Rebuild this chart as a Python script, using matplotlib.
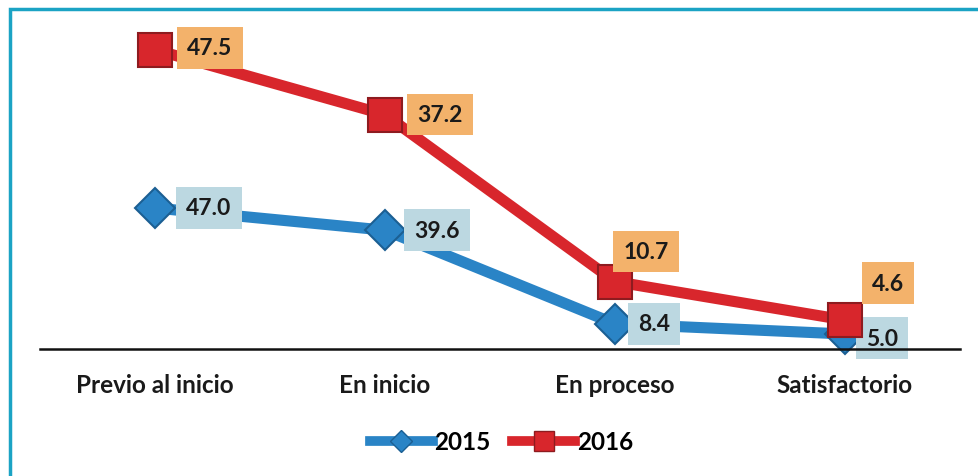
import matplotlib.pyplot as plt
from matplotlib.lines import Line2D
from matplotlib.patches import Rectangle

plt.rcParams['font.family'] = ['Lato', 'DejaVu Sans']
plt.rcParams['font.weight'] = 'bold'

# data
categories = ['Previo al inicio', 'En inicio', 'En proceso', 'Satisfactorio']
values_2015 = [47.0, 39.6, 8.4, 5.0]
values_2016 = [47.5, 37.2, 10.7, 4.6]

# label offsets (pixels) relative to each marker
offs_2015 = [(54, 0), (52, 0), (39, 0), (37, -4)]
offs_2016 = [(55, 2), (55, 0), (31, 30), (43, 37)]

blue = '#2a84c6'
red = '#d8262c'

fig = plt.figure(figsize=(9.79, 4.77), dpi=100)
ax = fig.add_axes([40 / 979, 1 - 350 / 477, 920 / 979, 315 / 477])
ax2 = ax.twinx()

x = list(range(len(categories)))

ax.plot(x, values_2015, color=blue, lw=8, marker='D', ms=20,
        mfc=blue, mec='#1b5f93', mew=1.5, clip_on=False, zorder=3)
ax2.plot(x, values_2016, color=red, lw=8, marker='s', ms=24,
         mfc=red, mec='#8e1b1f', mew=1.5, clip_on=False, zorder=3)

# 2015 is on the primary axis, 2016 on a secondary one
ax.set_ylim(0, 105)
ax2.set_ylim(0, 50)
ax.set_xlim(-0.5, 3.5)

for i, v in enumerate(values_2015):
    ax.annotate(f'{v:.1f}', (x[i], v), xytext=offs_2015[i], textcoords='offset pixels',
                ha='center', va='center', fontsize=16.5, fontweight='bold', color='#1a1a1a',
                bbox=dict(boxstyle='square,pad=0.45', fc='#bcd8e1', ec='none'), zorder=4)
for i, v in enumerate(values_2016):
    ax2.annotate(f'{v:.1f}', (x[i], v), xytext=offs_2016[i], textcoords='offset pixels',
                 ha='center', va='center', fontsize=16.5, fontweight='bold', color='#1a1a1a',
                 bbox=dict(boxstyle='square,pad=0.45', fc='#f3b26b', ec='none'), zorder=4)

for a in (ax, ax2):
    for s in ['top', 'left', 'right']:
        a.spines[s].set_visible(False)
    a.set_yticks([])
    a.patch.set_visible(False)
ax2.spines['bottom'].set_visible(False)
ax.spines['bottom'].set_linewidth(1.8)
ax.spines['bottom'].set_color('#111111')
ax.spines['bottom'].set_zorder(6)

ax.set_xticks(x)
ax.set_xticklabels(categories, fontsize=17.5, fontweight='bold', color='#1a1a1a')
ax.tick_params(axis='x', length=0, pad=17)

handles = [
    Line2D([], [], color=blue, lw=7, marker='D', ms=11, mfc=blue, mec='#1b5f93'),
    Line2D([], [], color=red, lw=7, marker='s', ms=15, mfc=red, mec='#8e1b1f'),
]
fig.legend(handles, ['2015', '2016'], loc='center', bbox_to_anchor=(0.512, 1 - 443 / 477),
           ncol=2, frameon=False, handlelength=2.6, handletextpad=0.05,
           columnspacing=0.9, prop={'weight': 'bold', 'size': 17.5})

# teal frame along top and left edges
fig.patches.append(Rectangle((9.5 / 979, -0.2), 1.2, 1.2 - 9.5 / 477,
                             transform=fig.transFigure, fill=False, ec='#1ba3c4', lw=2.5))

fig.savefig('out.png', dpi=100)
